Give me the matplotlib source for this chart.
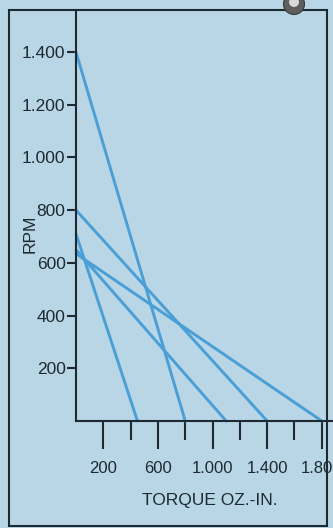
import matplotlib
matplotlib.use('Agg')
import matplotlib.pyplot as plt
from matplotlib.patches import Rectangle, Circle
from matplotlib.ticker import FixedLocator, FuncFormatter

# motor speed/torque curves: no-load speed (RPM) and stall torque (oz.-in.)
no_load_rpm = [1400, 800, 710, 650, 635]
stall_torque = [800, 1400, 450, 1100, 1800]

ytick_vals = [200, 400, 600, 800, 1000, 1200, 1400]
xtick_major = [200, 600, 1000, 1400, 1800]
xtick_minor = [400, 800, 1200, 1600]

bg = '#b9d6e6'
line_c = '#4a9fd6'
ink = '#1d2a31'
fam = ['Liberation Sans', 'DejaVu Sans']


def dotted(v, pos=None):
    return '{:,.0f}'.format(v).replace(',', '.')


if __name__ == '__main__':
    fig = plt.figure(figsize=(3.33, 5.28), dpi=100, facecolor=bg)
    ax = fig.add_axes([76/333, 1 - 421/528, 1 - 76/333, (421 - 12)/528])
    ax.set_facecolor(bg)

    for r, t in zip(no_load_rpm, stall_torque):
        ax.plot([0, t], [r, 0], color=line_c, lw=2.1, solid_capstyle='round',
                clip_on=False)

    ax.set_xlim(0, 1882)
    ax.set_ylim(0, 1552)

    for s in ('top', 'right'):
        ax.spines[s].set_visible(False)
    for s in ('left', 'bottom'):
        ax.spines[s].set_color(ink)
        ax.spines[s].set_linewidth(1.5)

    ax.yaxis.set_major_locator(FixedLocator(ytick_vals))
    ax.yaxis.set_major_formatter(FuncFormatter(dotted))
    ax.xaxis.set_major_locator(FixedLocator(xtick_major))
    ax.xaxis.set_minor_locator(FixedLocator(xtick_minor))
    ax.xaxis.set_major_formatter(FuncFormatter(dotted))

    ax.tick_params(axis='y', direction='out', length=6.5, width=1.5,
                   color=ink, pad=1, labelsize=12.5, labelcolor=ink)
    ax.tick_params(axis='x', which='major', direction='out', length=20,
                   width=1.5, color=ink, pad=8.5, labelsize=12,
                   labelcolor=ink)
    ax.tick_params(axis='x', which='minor', direction='out', length=14,
                   width=1.5, color=ink)
    for lab in ax.get_xticklabels() + ax.get_yticklabels():
        lab.set_family(fam)

    ax.set_xlabel('TORQUE OZ.-IN.', family=fam, fontsize=12.5, color=ink)
    ax.xaxis.set_label_coords(0.52, -0.175)
    ax.set_ylabel('RPM', family=fam, fontsize=12.5, color=ink)
    ax.yaxis.set_label_coords(-0.15, 0.457)

    # outer frame of the panel
    fig.patches.append(Rectangle((9/333, 2/528), 318/333, 516/528,
                                 transform=fig.transFigure, fill=False,
                                 ec=ink, lw=1.5))
    # little screw head in the top corner
    fig.patches.append(Circle((2.94, 5.24), 0.105, transform=fig.dpi_scale_trans,
                              fc='#5e5e5e', ec='#3a3a3a', lw=0.8))
    fig.patches.append(Circle((2.94, 5.26), 0.05, transform=fig.dpi_scale_trans,
                              fc='#d8d8d8', ec='none'))

    fig.savefig('out.png', dpi=100, facecolor=bg)
